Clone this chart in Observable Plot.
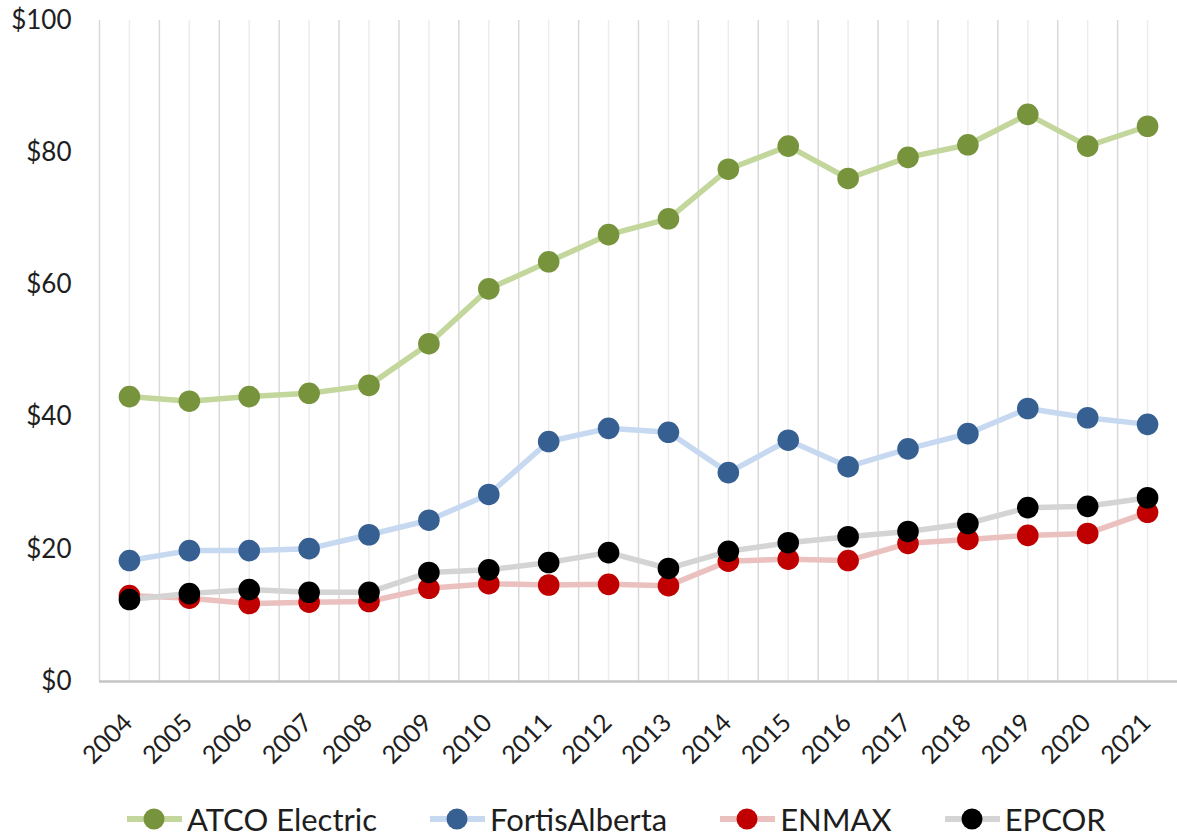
<!DOCTYPE html>
<html>
<head>
<meta charset="utf-8">
<script src="https://cdn.jsdelivr.net/npm/d3@7"></script>
<script src="https://cdn.jsdelivr.net/npm/@observablehq/plot@0.6"></script>
<style>
  html, body { margin: 0; padding: 0; background: #fff; }
  #chart svg { display: block; }
  #legend { display: flex; align-items: center; height: 58px; padding-left: 127px; gap: 53px;
            font-family: Lato, sans-serif; font-size: 31px; color: #1e1e1e; }
  #legend .item { display: flex; align-items: center; }
  #legend .item span { margin-left: 5px; }
</style>
</head>
<body>
<div id="chart"></div>
<div id="legend"></div>
<script>
const years = [2004, 2005, 2006, 2007, 2008, 2009, 2010, 2011, 2012, 2013, 2014, 2015, 2016, 2017, 2018, 2019, 2020, 2021];
const atco   = [43.1, 42.4, 43.1, 43.6, 44.8, 51.1, 59.4, 63.5, 67.6, 70.0, 77.5, 81.0, 76.1, 79.3, 81.2, 85.8, 81.0, 84.0];
const fortis = [18.3, 19.8, 19.8, 20.1, 22.2, 24.4, 28.3, 36.3, 38.3, 37.7, 31.6, 36.5, 32.5, 35.2, 37.5, 41.3, 39.9, 38.9];
const enmax  = [13.0, 12.6, 11.8, 12.0, 12.1, 14.1, 14.8, 14.6, 14.7, 14.5, 18.2, 18.5, 18.3, 20.9, 21.5, 22.1, 22.4, 25.6];
const epcor  = [12.4, 13.3, 13.9, 13.5, 13.5, 16.5, 16.9, 18.0, 19.5, 17.1, 19.7, 21.0, 21.9, 22.7, 23.9, 26.3, 26.5, 27.8];
const yTicks = [0, 20, 40, 60, 80, 100];

const seriesNames = ["ATCO Electric", "FortisAlberta", "ENMAX", "EPCOR"];
const seriesValues = [atco, fortis, enmax, epcor];
const dotColors = ["#77933C", "#376092", "#C00000", "#000000"];
const lineColors = ["#C3D69B", "#C6D9F1", "#EBC1C0", "#D4D4D4"];

const series = seriesNames.map((name, i) => ({
  name, dot: dotColors[i], line: lineColors[i],
  data: years.map((yr, j) => ({year: yr, value: seriesValues[i][j]}))
}));

const boundaries = years.map(y => y - 0.5);

const marks = [
  Plot.ruleX(years, {stroke: "#EDEDED", strokeWidth: 1.5}),
  Plot.ruleX(boundaries, {stroke: "#D9D9D9", strokeWidth: 1.5}),
  Plot.ruleY([0], {stroke: "#C4C4C4", strokeWidth: 2.5}),
  Plot.axisY({ticks: yTicks, tickFormat: d => "$" + d, tickSize: 0, tickPadding: 28, fontSize: 26, label: null}),
  Plot.text(years, {x: d => d, text: d => String(d), frameAnchor: "bottom", dy: 37, dx: -1,
    rotate: -45, textAnchor: "end", lineAnchor: "middle", fontSize: 25, fill: "#1e1e1e"})
];
for (const s of series) {
  marks.push(Plot.line(s.data, {x: "year", y: "value", stroke: s.line, strokeWidth: 5.5}));
  marks.push(Plot.dot(s.data, {x: "year", y: "value", r: 10.8, fill: s.dot, stroke: "none"}));
}

const chart = Plot.plot({
  width: 1177,
  height: 790,
  marginLeft: 99,
  marginRight: 0,
  marginTop: 20,
  marginBottom: 109,
  style: {fontFamily: "Lato, sans-serif", fontSize: "26px", color: "#1e1e1e", background: "#fff", overflow: "visible"},
  x: {domain: [2003.5, 2021.5], axis: null},
  y: {domain: [0, 100], axis: null},
  marks
});
document.getElementById("chart").appendChild(chart);

const legend = document.getElementById("legend");
for (const s of series) {
  const item = document.createElement("div");
  item.className = "item";
  item.innerHTML = `<svg width="55" height="24"><line x1="0" x2="55" y1="12" y2="12" stroke="${s.line}" stroke-width="6"/><circle cx="27" cy="12" r="10.5" fill="${s.dot}"/></svg><span>${s.name}</span>`;
  legend.appendChild(item);
}
</script>
</body>
</html>
